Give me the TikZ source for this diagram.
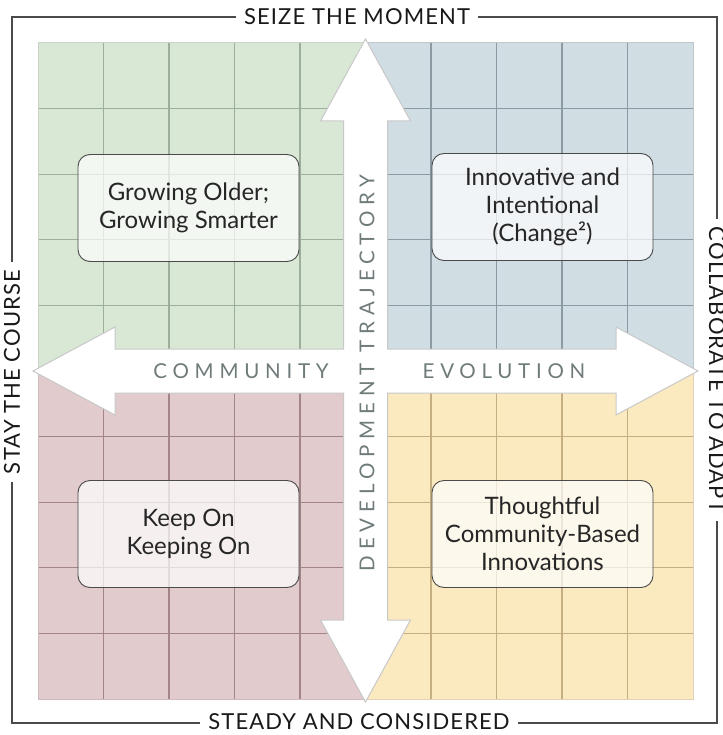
\documentclass[tikz,border=0pt]{standalone}
\usepackage{fontspec}
\setmainfont{Lato}
\newfontfamily\spacedfont[LetterSpace=28]{Lato}
\newfontfamily\edgefont[LetterSpace=5]{Lato}
\usetikzlibrary{positioning}

\definecolor{greenfill}{HTML}{D9E7D5}
\definecolor{greenline}{HTML}{9DAF9A}
\definecolor{bluefill}{HTML}{D0DDE3}
\definecolor{blueline}{HTML}{8C9AA2}
\definecolor{redfill}{HTML}{E1CBCC}
\definecolor{redline}{HTML}{A38587}
\definecolor{yellowfill}{HTML}{FBE9C0}
\definecolor{yellowline}{HTML}{C5AE7F}
\definecolor{frameline}{HTML}{4A4A4A}
\definecolor{axisgray}{HTML}{6F7B7A}
\definecolor{arrowedge}{HTML}{C8C8C8}

\tikzset{
  quotebox/.style={draw=frameline, line width=0.9pt, fill=white, fill opacity=0.7,
    text opacity=1, text=black!85, rounded corners=12pt, minimum width=221pt,
    minimum height=107pt, align=center, font=\fontsize{24}{28}\selectfont},
  edgelabel/.style={fill=white, inner xsep=8pt, inner ysep=2pt, text=black!90,
    font=\edgefont\fontsize{22}{22}\selectfont},
  axislabel/.style={text=axisgray, inner sep=0pt, font=\spacedfont\fontsize{20.5}{20.5}\selectfont}
}

\begin{document}
\begin{tikzpicture}[x=1pt,y=-1pt]
  \useasboundingbox (0,0) rectangle (722,735);

  % four quadrants, 5x5 cells each
  \foreach \qx/\qy/\fc/\lc in {38/43/greenfill/greenline, 365.5/43/bluefill/blueline,
      38/371/redfill/redline, 365.5/371/yellowfill/yellowline} {
    \fill[\fc] (\qx,\qy) rectangle ++(327.5,328);
    \foreach \k in {1,...,4} {
      \draw[\lc, line width=1.2pt] (\qx+\k*65.5,\qy) -- ++(0,328);
      \draw[\lc, line width=1.2pt] (\qx,\qy+\k*65.6) -- ++(327.5,0);
    }
    \draw[\lc!55, line width=1pt] (\qx,\qy) rectangle ++(327.5,328);
  }

  % cross of double arrows
  \filldraw[fill=white, draw=arrowedge, line width=1pt, line join=miter]
    (365.5,39) -- (410.5,121) -- (387.5,121) -- (387.5,349) -- (616,349) -- (616,327)
    -- (698,371) -- (616,415) -- (616,393) -- (387.5,393) -- (387.5,620) -- (410.5,620)
    -- (365.5,702) -- (320.5,620) -- (343.5,620) -- (343.5,393) -- (115,393) -- (115,415)
    -- (33,371) -- (115,327) -- (115,349) -- (343.5,349) -- (343.5,121) -- (320.5,121)
    -- cycle;

  \node[axislabel] (community) at (241,371) {COMMUNITY};
  \node[axislabel] (evolution) at (504,371) {EVOLUTION};
  \node[axislabel, rotate=90] (trajectory) at (367,373) {DEVELOPMENT TRAJECTORY};

  % scenario boxes
  \node[quotebox] (older) at (188.5,208) {Growing Older;\\Growing Smarter};
  \node[quotebox] (intentional) at (542.5,207) {Innovative and\\Intentional\\(Change²)};
  \node[quotebox] (keepon) at (188.5,534) {Keep On\\Keeping On};
  \node[quotebox] (thoughtful) at (542.5,534) {Thoughtful\\Community-Based\\Innovations};

  % outer frame with its four labels
  \draw[frameline, line width=1.3pt] (12,17) rectangle (717,723);
  \node[edgelabel] (seize) at (357,17) {SEIZE THE MOMENT};
  \node[edgelabel] (steady) at (359,722) {STEADY AND CONSIDERED};
  \node[edgelabel, rotate=90] (stay) at (12,372) {STAY THE COURSE};
  \node[edgelabel, rotate=-90] (collab) at (717,370) {COLLABORATE TO ADAPT};
\end{tikzpicture}
\end{document}
